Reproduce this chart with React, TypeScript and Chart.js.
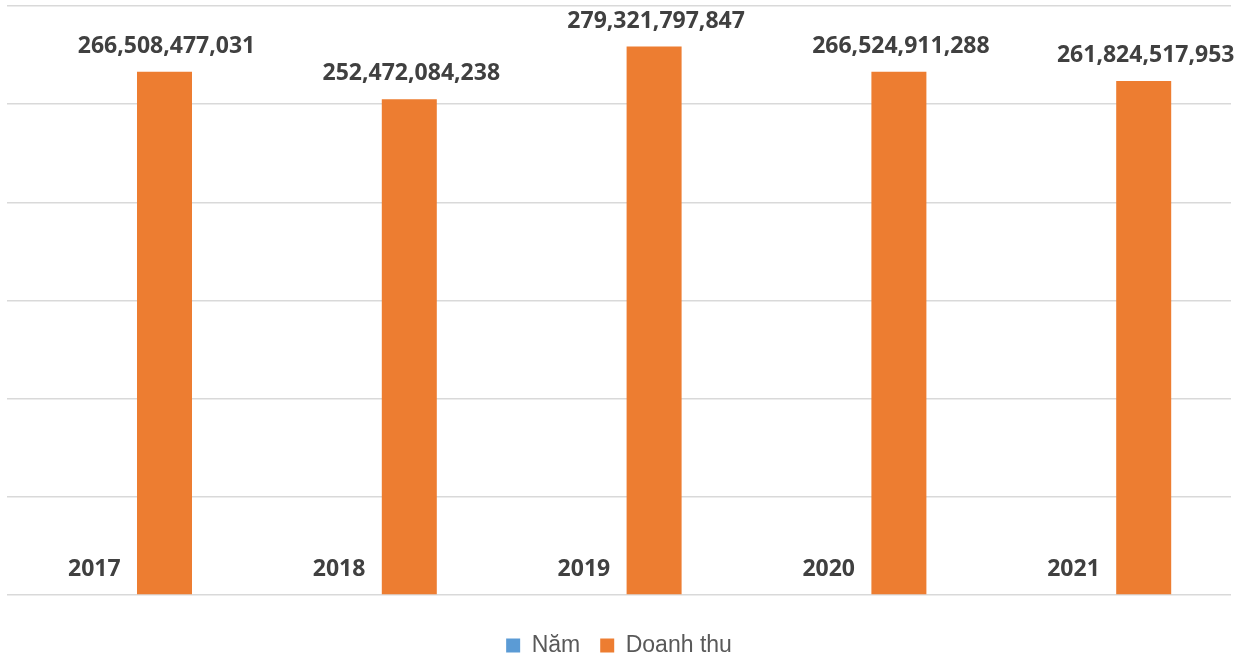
import React, { useEffect, useRef } from "react";
import { Chart, registerables } from "chart.js";

Chart.register(...registerables);

const categories = ["2017", "2018", "2019", "2020", "2021"];
const yearValues = [2017, 2018, 2019, 2020, 2021];
const revenueValues = [266508477031, 252472084238, 279321797847, 266524911288, 261824517953];
const seriesNames = ["Năm", "Doanh thu"];
const seriesColors = ["#5B9BD5", "#ED7D31"];

const labelPlugin = {
  id: "barLabels",
  afterLayout(chart: any) {
    const lg = chart.legend;
    if (lg) {
      lg.top += 19;
      lg.bottom += 19;
    }
  },
  afterDatasetsDraw(chart: any) {
    const ctx = chart.ctx;
    ctx.save();
    ctx.font = "bold 23px 'Open Sans'";
    ctx.fillStyle = "#404040";
    ctx.textAlign = "center";
    ctx.textBaseline = "alphabetic";
    chart.data.datasets.forEach((ds: any, di: number) => {
      const meta = chart.getDatasetMeta(di);
      meta.data.forEach((bar: any, i: number) => {
        const v = ds.data[i];
        const text = di === 0 ? String(v) : v.toLocaleString("en-US");
        ctx.fillText(text, bar.x + (di === 1 ? 2 : 0), bar.y - 19);
      });
    });
    ctx.restore();
  },
};

export default function App() {
  const ref = useRef<HTMLCanvasElement>(null);
  useEffect(() => {
    const chart = new Chart(ref.current!, {
      type: "bar",
      data: {
        labels: categories,
        datasets: [
          { label: seriesNames[0], data: yearValues, backgroundColor: "rgba(0,0,0,0)", categoryPercentage: 0.5735, barPercentage: 0.7835 },
          { label: seriesNames[1], data: revenueValues, backgroundColor: seriesColors[1], categoryPercentage: 0.5735, barPercentage: 0.7835 },
        ],
      },
      options: {
        animation: false,
        responsive: true,
        maintainAspectRatio: false,
        layout: { padding: { left: 7, right: 19, top: 6, bottom: 11 } },
        scales: {
          x: { display: false },
          y: {
            min: 0,
            max: 300000000000,
            ticks: { display: false, stepSize: 50000000000 },
            border: { display: false },
            grid: { color: "#D9D9D9", lineWidth: 1.5, drawTicks: false, tickLength: 0 },
          },
        },
        plugins: {
          tooltip: { enabled: false },
          legend: {
            position: "bottom",
            labels: {
              boxWidth: 14,
              boxHeight: 14,
              padding: 20,
              color: "#595959",
              font: { family: "'Liberation Sans', Arial", size: 23 },
              generateLabels: (c: any) =>
                c.data.datasets.map((ds: any, i: number) => ({
                  text: ds.label,
                  fillStyle: seriesColors[i],
                  strokeStyle: seriesColors[i],
                  lineWidth: 0,
                  fontColor: "#595959",
                  hidden: false,
                  datasetIndex: i,
                })),
            },
          },
        },
      },
      plugins: [labelPlugin],
    });
    return () => chart.destroy();
  }, []);
  return (
    <div style={{ position: "fixed", left: 0, top: 0, width: 1250, height: 659, background: "#fff" }}>
      <canvas ref={ref} />
    </div>
  );
}
